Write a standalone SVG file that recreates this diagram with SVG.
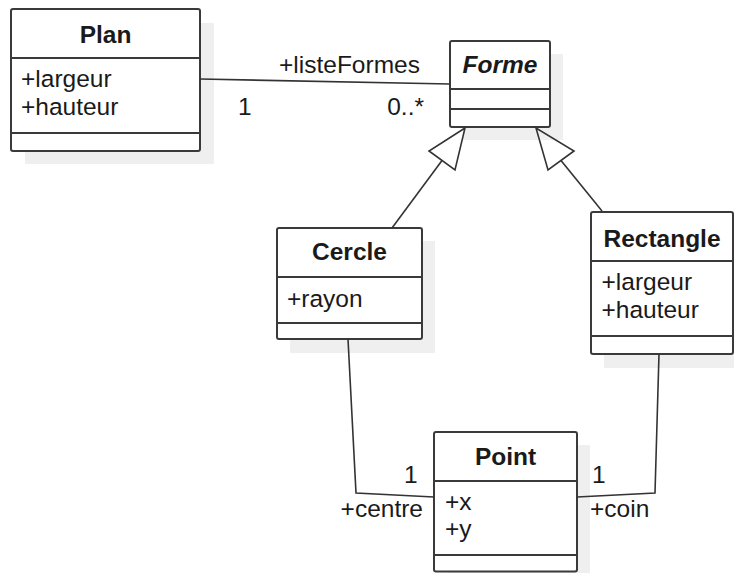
<svg xmlns="http://www.w3.org/2000/svg" width="734" height="573" viewBox="0 0 734 573">
<style>
.shadow{fill:#efefef;stroke:none}
.box{fill:#ffffff;stroke:#3a3a3a;stroke-width:2}
.sep{stroke:#3a3a3a;stroke-width:2;fill:none}
.conn{stroke:#333333;stroke-width:1.6;fill:none}
.title{font-family:"Liberation Sans",Arial,sans-serif;font-size:24.5px;font-weight:bold;fill:#1a1a1a;text-anchor:middle}
.attr{font-family:"Liberation Sans",Arial,sans-serif;font-size:24.5px;fill:#1a1a1a}
.lbl{font-family:"Liberation Sans",Arial,sans-serif;font-size:24.5px;fill:#1a1a1a}
</style>
<rect x="0" y="0" width="734" height="573" fill="#ffffff"/>
<g id="Plan">
<rect class="shadow" x="25" y="23" width="189" height="141"/>
<rect class="box" x="11" y="9" width="189" height="142" rx="2"/>
<line class="sep" x1="11" y1="58" x2="200" y2="58"/>
<line class="sep" x1="11" y1="133" x2="200" y2="133"/>
<text class="title" x="105.5" y="43">Plan</text>
<text class="attr" x="21" y="86.5">+largeur</text>
<text class="attr" x="21" y="115">+hauteur</text>
</g>
<g id="Forme">
<rect class="shadow" x="463" y="54" width="100" height="86"/>
<rect class="box" x="450" y="41" width="100" height="86" rx="2"/>
<line class="sep" x1="450" y1="89" x2="550" y2="89"/>
<line class="sep" x1="450" y1="109" x2="550" y2="109"/>
<text class="title" x="500" y="73" font-style="italic">Forme</text>
</g>
<g id="Cercle">
<rect class="shadow" x="290" y="241" width="145" height="112"/>
<rect class="box" x="277" y="228" width="145" height="111" rx="2"/>
<line class="sep" x1="277" y1="277" x2="422" y2="277"/>
<line class="sep" x1="277" y1="323" x2="422" y2="323"/>
<text class="title" x="349.5" y="260">Cercle</text>
<text class="attr" x="287" y="306.5">+rayon</text>
</g>
<g id="Rectangle">
<rect class="shadow" x="604" y="225" width="143" height="143"/>
<rect class="box" x="591" y="212" width="142" height="142" rx="2"/>
<line class="sep" x1="591" y1="261" x2="733" y2="261"/>
<line class="sep" x1="591" y1="336" x2="733" y2="336"/>
<text class="title" x="662" y="246.5">Rectangle</text>
<text class="attr" x="601.5" y="290">+largeur</text>
<text class="attr" x="601.5" y="318">+hauteur</text>
</g>
<g id="Point">
<rect class="shadow" x="447" y="445" width="143" height="140"/>
<rect class="box" x="434" y="432" width="143" height="139.5" rx="2"/>
<line class="sep" x1="434" y1="481" x2="577" y2="481"/>
<line class="sep" x1="434" y1="555" x2="577" y2="555"/>
<text class="title" x="505.5" y="465">Point</text>
<text class="attr" x="445" y="510">+x</text>
<text class="attr" x="445" y="537">+y</text>
</g>
<g id="connectors">
<path class="conn" d="M200,79 L450,84"/>
<path class="conn" d="M392,228 L442,160.5"/>
<path class="conn" d="M465,128 L429,151 L455,170 Z" fill="#ffffff"/>
<path class="conn" d="M602,211 L561,160.5"/>
<path class="conn" d="M536,128 L548,170 L574,151 Z" fill="#ffffff"/>
<path class="conn" d="M348,339 L356,493 L434,497"/>
<path class="conn" d="M659,354 L655,493 L577,497"/>
<text class="lbl" x="349.5" y="73" text-anchor="middle">+listeFormes</text>
<text class="lbl" x="238" y="115">1</text>
<text class="lbl" x="424" y="115" text-anchor="end">0..*</text>
<text class="lbl" x="404" y="483">1</text>
<text class="lbl" x="423" y="517" text-anchor="end">+centre</text>
<text class="lbl" x="592" y="483">1</text>
<text class="lbl" x="590" y="517">+coin</text>
</g>
</svg>
